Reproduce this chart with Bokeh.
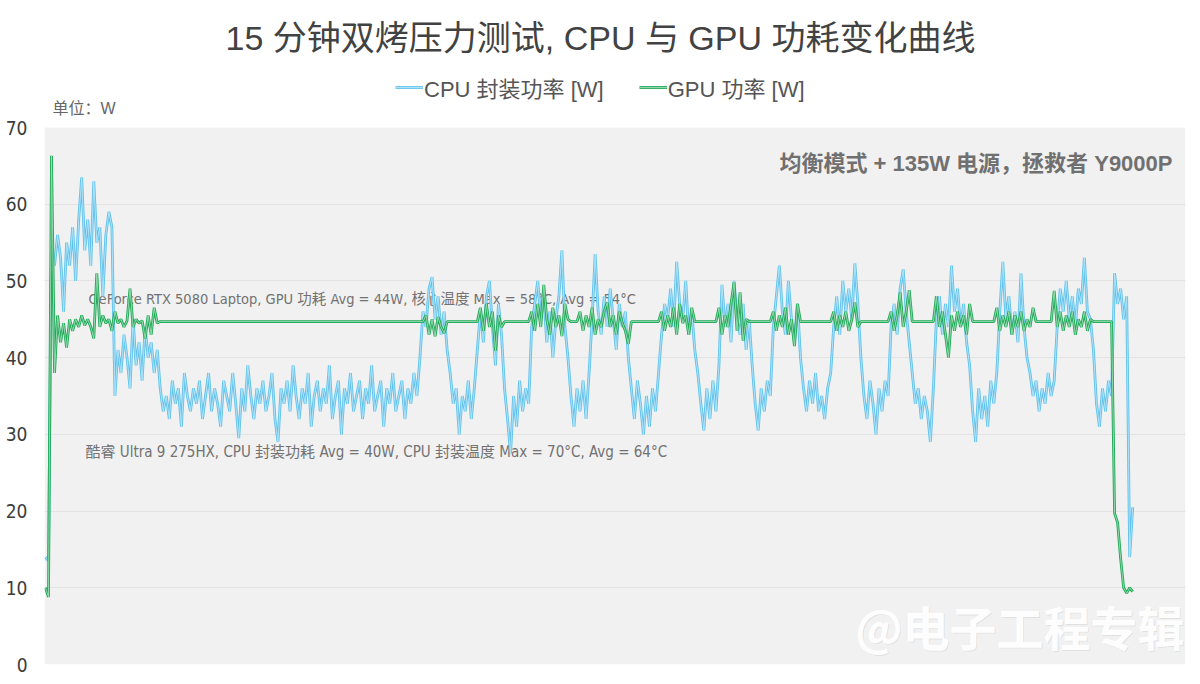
from bokeh.plotting import figure
from bokeh.models import Range1d, FixedTicker, Label, Legend, LegendItem, BoxAnnotation
from bokeh.embed import file_html
from bokeh.resources import INLINE

TITLE = "15 分钟双烤压力测试, CPU 与 GPU 功耗变化曲线"
CPU_NAME = "CPU 封装功率 [W]"
GPU_NAME = "GPU 功率 [W]"
UNIT = "单位：W"
MODE_NOTE = "均衡模式 + 135W 电源，拯救者 Y9000P"
GPU_NOTE = "GeForce RTX 5080 Laptop, GPU 功耗 Avg = 44W, 核心温度 Max = 58°C, Avg = 54°C"
CPU_NOTE = "酷睿 Ultra 9 275HX, CPU 封装功耗 Avg =  40W, CPU 封装温度 Max = 70°C, Avg = 64°C"
WATERMARK = "@电子工程专辑"

STEP_S = 2.5  # seconds between samples
y_ticks = [0, 10, 20, 30, 40, 50, 60, 70]
Y_MIN, Y_MAX = 0, 70

# CPU package power, one value per sample
cpu_w = [
    14, 13.5, 54, 52, 56, 53, 46, 55, 52, 57,
    50, 58, 63.5, 54, 58, 52, 63, 55, 57, 48,
    56, 59, 57, 35, 41, 38, 43, 40, 36, 45,
    39, 42, 37, 44, 40, 42, 38, 41, 36, 33,
    35, 32, 37, 34, 36, 31, 38, 35, 33, 36,
    34, 37, 32, 35, 38, 33, 36, 34, 31, 37,
    35, 33, 38, 34, 29.5, 36, 33, 39, 35, 32,
    36, 34, 37, 33, 35, 38, 32, 29, 36, 34,
    37, 33, 39, 35, 32, 36, 34, 38, 31, 35,
    37, 33, 36, 34, 39, 32, 35, 37, 30, 36,
    34, 38, 33, 35, 37, 32, 36, 34, 39, 33,
    35, 37, 31, 36, 34, 38, 33, 35, 37, 32,
    36, 34, 38, 35, 40, 46, 44, 49, 50.5, 45,
    48, 43, 46, 41, 38, 34, 36, 30, 35, 33,
    37, 32, 36, 41, 46, 42, 48, 50, 44, 39,
    47, 43, 36, 32, 27.5, 35, 31, 37, 33, 36,
    34, 44, 47, 50, 45, 48, 42, 46, 40, 45,
    48, 54, 44, 40, 35, 31, 36, 33, 37, 32,
    38, 45, 53.5, 46, 43, 48, 44, 49, 45, 41,
    47, 44, 46, 40, 36, 32, 37, 34, 30, 35,
    31, 36, 33, 38, 43, 47, 45, 49, 44, 52.5,
    47, 45, 50, 43, 46, 41, 38, 34, 30.5, 36,
    32, 37, 33, 39, 49.5, 44, 47, 42, 50, 45,
    43, 47, 41, 45, 39, 34, 30.5, 36, 33, 37,
    35, 44, 48, 52, 46, 43, 50, 45, 42, 47,
    40, 36, 33, 37, 34, 38, 33, 35, 32, 36,
    38, 44, 48, 43, 50, 46, 49, 45, 52.3, 47,
    40, 35, 32, 37, 34, 30, 36, 33, 37, 35,
    44, 47, 43, 49, 51.5, 46, 42, 38, 34, 36,
    32, 35, 33, 29, 36, 45, 48, 43, 47, 44,
    52, 46, 49, 44, 47, 42, 39, 33, 29, 36,
    32, 35, 31, 37, 34, 38, 46, 52.5, 45, 48,
    43, 46, 42, 51, 44, 40, 38, 35, 37, 33,
    36, 34, 38, 35, 37, 44, 49, 46, 50, 45,
    48, 44, 49, 47, 53, 46, 45, 41, 34, 31,
    36, 33, 37, 35, 51, 47, 49, 45, 48, 14,
    20.5,
]

# GPU power: sample index and value (flat stretches given by their end samples)
gpu_idx = [
    0, 1, 2, 3, 4, 5, 6, 7, 8, 9, 10, 11, 12, 13, 14, 15, 16, 17, 18, 19,
    20, 21, 22, 23, 24, 25, 26, 27, 28, 29, 30, 31, 32, 33, 34, 35, 36, 37, 38,
    125, 126, 127, 128, 129, 130, 131, 132, 133,
    143, 144, 145, 146, 147, 148, 149, 150, 151, 152,
    160, 161, 162, 163, 164, 165, 166, 167, 168, 169, 170, 171, 172, 173, 174,
    176, 177, 178, 179, 180, 181, 182, 183, 184, 185, 186, 187, 188, 189, 190, 191, 192, 193, 194,
    203, 204, 205, 206, 207, 208, 209, 210, 211, 212, 213, 214, 215,
    222, 223, 224, 225, 226, 227, 228, 229, 230, 231, 232, 233,
    240, 241, 242, 243, 244, 245, 246, 247, 248, 249, 250,
    260, 261, 262, 263, 264, 265, 266, 267, 268, 269, 270,
    279, 280, 281, 282, 283, 284, 285, 286, 287,
    294, 295, 296, 297, 298, 299, 300, 301, 302, 303, 304, 305, 306, 307,
    314, 315, 316, 317, 318, 319, 320, 321, 322, 323, 324, 325, 326, 327, 328,
    333, 334, 335, 336, 337, 338, 339, 340, 341, 342, 343, 344, 345, 346, 347,
    353, 354, 355, 356, 357, 358, 359, 360,
]
gpu_w = [
    10, 8.8, 66.3, 38, 45.5, 42, 44.5, 41.3, 45, 43.5, 45, 44, 45.5, 44.2, 45, 44, 42.5, 51, 44, 45.5,
    44.5, 45, 43.5, 46, 44.5, 45, 44, 44.8, 49, 44, 45, 44.5, 44.8, 42.5, 45.5, 43, 46.5, 44.5, 44.7,
    44.7, 45.5, 43, 45, 42.8, 45.3, 44, 43.2, 44.7,
    44.7, 46.5, 43.5, 47, 44, 46, 40.9, 45.5, 44, 44.7,
    44.7, 46, 43.5, 47, 44, 49.5, 45, 43, 46.5, 44, 45.5, 42.8, 47, 45, 44.7,
    44.7, 46, 43.5, 45.5, 44, 46.5, 43, 45, 44, 46, 47.2, 44, 45.5, 43, 46, 44.5, 43.5, 41.8, 44.7,
    44.7, 46, 43.5, 45.5, 44, 46.5, 43, 47, 44.5, 45.5, 43, 46.5, 44.7,
    44.7, 46.5, 43, 45.5, 44, 47, 49.8, 43.5, 48.5, 42.2, 45, 44.7,
    44.7, 46, 43.5, 45.5, 44, 46.5, 43, 45, 41.5, 47, 44.7,
    44.7, 46, 43.5, 45.5, 44, 46, 43.5, 45, 47.2, 44, 44.7,
    44.7, 46, 43.5, 45.5, 48.5, 44, 46, 48.8, 44.7,
    44.7, 48, 44, 46, 43, 40, 45.5, 43.5, 46, 44, 45.5, 43, 47, 44.7,
    44.7, 46.5, 43.5, 45.5, 44, 46, 43, 45.5, 44, 46, 43.5, 45, 44, 46.5, 44.7,
    44.7, 48.7, 44, 46, 43.5, 45.5, 44, 46, 43, 45, 44, 46, 43.5, 45, 44.7,
    44.7, 19.7, 18.5, 13.8, 10, 9.3, 10, 9.5,
]

cpu_t = [i * STEP_S for i in range(len(cpu_w))]
gpu_t = [i * STEP_S for i in gpu_idx]

LATIN_CJK = "'Liberation Sans', 'Noto Sans CJK SC', sans-serif"
NARROW_CJK = "'Liberation Sans Narrow', 'DejaVu Sans Condensed', 'Noto Sans CJK SC', sans-serif"

# frame spans from the canvas top to the bottom of the grey plot area;
# the grey plot area itself covers 0..70 W (537 px), leaving room above for titles
FRAME_TOP_EXTRA = 127 * (Y_MAX - Y_MIN) / 537.0

p = figure(
    width=1196, height=680,
    x_range=Range1d(-0.8, 943.7), y_range=Range1d(Y_MIN, Y_MAX + FRAME_TOP_EXTRA),
    output_backend="svg", toolbar_location=None,
    min_border_left=44, min_border_right=11, min_border_top=0, min_border_bottom=16,
    background_fill_color="white", border_fill_color="white",
    outline_line_color=None,
)
p.add_layout(BoxAnnotation(bottom=Y_MIN, top=Y_MAX, fill_color="#f1f1f1", fill_alpha=1,
                           line_color=None, level="image"))
p.xaxis.visible = False
p.xgrid.visible = False
p.yaxis.ticker = FixedTicker(ticks=y_ticks)
p.ygrid.ticker = FixedTicker(ticks=y_ticks[1:-1])
p.ygrid.grid_line_color = "#e3e3e3"
p.yaxis.axis_line_color = None
p.yaxis.major_tick_line_color = None
p.yaxis.minor_tick_line_color = None
p.yaxis.major_tick_in = 0
p.yaxis.major_tick_out = 0
p.yaxis.major_label_standoff = 17
p.yaxis.major_label_text_font_size = "19px"
p.yaxis.major_label_text_color = "#3c3c3c"
p.yaxis.major_label_text_font = NARROW_CJK

# in-plot notes under the lines
p.add_layout(Label(x=44, y=366, x_units="screen", y_units="screen", text=GPU_NOTE,
                   text_font=NARROW_CJK, text_font_size="14.5px", text_color="#727272",
                   text_baseline="middle", level="underlay"))
p.add_layout(Label(x=41, y=213, x_units="screen", y_units="screen", text=CPU_NOTE,
                   text_font=NARROW_CJK, text_font_size="15px", text_color="#727272",
                   text_baseline="middle", level="underlay"))

cpu_o = p.line(cpu_t, cpu_w, line_color="#5fc2ec", line_width=2.8)
cpu_i = p.line(cpu_t, cpu_w, line_color="#b9e5f7", line_width=0.9)
gpu_o = p.line(gpu_t, gpu_w, line_color="#1ea957", line_width=2.8)
gpu_i = p.line(gpu_t, gpu_w, line_color="#9fdcb5", line_width=0.9)

legend = Legend(
    items=[LegendItem(label=CPU_NAME, renderers=[cpu_o, cpu_i]),
           LegendItem(label=GPU_NAME, renderers=[gpu_o, gpu_i])],
    location=(351, 561), orientation="horizontal",
    background_fill_alpha=0, border_line_color=None, padding=0, margin=0,
    spacing=35, glyph_width=28, glyph_height=20, label_height=20, label_standoff=1,
    label_text_font_size="22px", label_text_color="#555555", label_text_font=LATIN_CJK,
)
p.add_layout(legend)

p.add_layout(Label(x=556, y=627, x_units="screen", y_units="screen", text=TITLE,
                   text_font=LATIN_CJK, text_font_size="34px", text_color="#424242",
                   text_align="center", text_baseline="middle"))
p.add_layout(Label(x=8, y=556, x_units="screen", y_units="screen", text=UNIT,
                   text_font=LATIN_CJK, text_font_size="16px", text_color="#666666",
                   text_baseline="middle"))
p.add_layout(Label(x=1128, y=501, x_units="screen", y_units="screen", text=MODE_NOTE,
                   text_font=LATIN_CJK, text_font_size="22px", text_color="#707070",
                   text_font_style="bold", text_align="right", text_baseline="middle"))
p.add_layout(Label(x=1141, y=38, x_units="screen", y_units="screen", text=WATERMARK,
                   text_font="'Noto Sans CJK SC', sans-serif", text_font_size="47px",
                   text_color="#000000", text_alpha=0.07, text_font_style="bold",
                   text_align="right", text_baseline="middle"))
p.add_layout(Label(x=1140, y=39, x_units="screen", y_units="screen", text=WATERMARK,
                   text_font="'Noto Sans CJK SC', sans-serif", text_font_size="47px",
                   text_color="#ffffff", text_alpha=0.95, text_font_style="bold",
                   text_align="right", text_baseline="middle"))

open("out.html", "w").write(file_html(p, INLINE))
